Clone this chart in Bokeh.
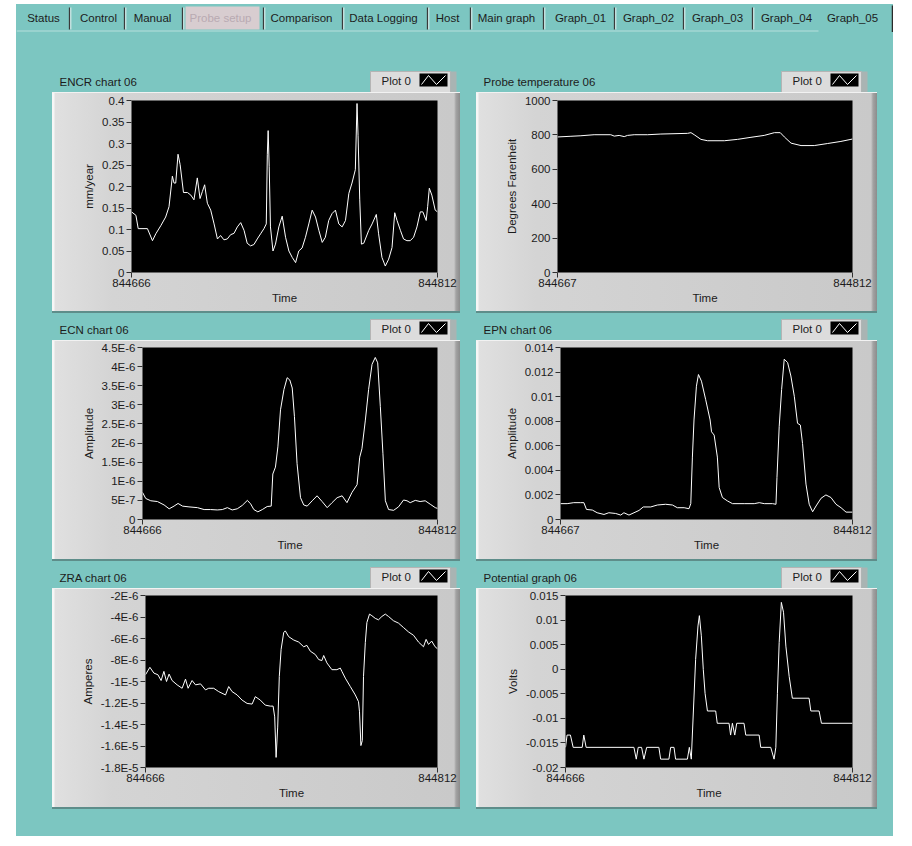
from bokeh.plotting import figure
from bokeh.layouts import column, row
from bokeh.models import Range1d, FixedTicker, CustomJSTickFormatter, NumeralTickFormatter
from bokeh.core.properties import value
from bokeh.embed import file_html
from bokeh.resources import INLINE

FONT = "Liberation Sans"
TEAL = "#7cc6c1"
PANEL = "#cdcdcd"
TXT = "#1c1c1c"
PANEL_BG = ("linear-gradient(90deg, #f6f6f6 0px, #f6f6f6 2px, #e0e0e0 3px, #d4d4d4 60px, "
            "#cccccc 75%, #c9c9c9 calc(100% - 6px), #a3a3a3 calc(100% - 4px), #8c8c8c 100%)")

# ---------------- tabs ----------------
tab_labels = ["Status", "Control", "Manual", "Probe setup", "Comparison", "Data Logging",
              "Host", "Main graph", "Graph_01", "Graph_02", "Graph_03", "Graph_04", "Graph_05"]

# ---------------- data ----------------
# ENCR chart 06 (mm/year), time offsets from 844666
encr_start, encr_end = 844666, 844812
encr_offset = [0, 2.1, 3.2, 7.6, 10, 11.6, 14, 16.3, 17.9, 19.5,
               20.3, 21.1, 22.2, 23.2, 24.8, 26.7, 28.3, 29.8, 31.4, 32.7,
               33.8, 34.9, 36.2, 37.8, 39.4, 41, 42.5, 44.1, 45.7, 47.3,
               48.9, 50.5, 52.1, 53.7, 55.2, 56.8, 58.4, 60, 61.6, 63.2,
               64.3, 64.8, 65.2, 65.7, 66.3, 67.5, 68.7, 70.3, 71.9, 73.5,
               75.1, 76.7, 78.3, 79.8, 81.4, 83, 84.6, 86.2, 87.8, 89.4,
               91, 92.5, 94.1, 95.7, 97.3, 98.9, 100.5, 102.1, 103.7, 105.2,
               106.8, 107.6, 108.1, 108.9, 109.7, 110.8, 113.2, 114.8, 116.8, 117.9,
               119.5, 121.1, 122.7, 124.3, 125.6, 126.7, 128.3, 129.8, 131.4, 133,
               134.6, 136.2, 137.8, 139, 140.6, 141.3, 142.1, 143.3, 144.9, 146]
encr_value = [0.141, 0.133, 0.102, 0.102, 0.074, 0.090, 0.109, 0.129, 0.153, 0.224,
              0.208, 0.208, 0.275, 0.251, 0.186, 0.186, 0.180, 0.169, 0.220, 0.172,
              0.188, 0.204, 0.161, 0.145, 0.113, 0.078, 0.086, 0.076, 0.078, 0.088,
              0.091, 0.106, 0.116, 0.098, 0.068, 0.062, 0.065, 0.078, 0.090, 0.102,
              0.113, 0.275, 0.330, 0.247, 0.106, 0.050, 0.066, 0.106, 0.131, 0.082,
              0.050, 0.035, 0.023, 0.050, 0.057, 0.082, 0.113, 0.145, 0.129, 0.098,
              0.070, 0.082, 0.121, 0.137, 0.145, 0.113, 0.106, 0.121, 0.184, 0.208,
              0.239, 0.393, 0.318, 0.169, 0.066, 0.068, 0.098, 0.113, 0.135, 0.090,
              0.035, 0.015, 0.031, 0.058, 0.139, 0.121, 0.098, 0.078, 0.074, 0.074,
              0.082, 0.106, 0.141, 0.141, 0.121, 0.153, 0.196, 0.180, 0.145, 0.141]
encr_ticks = [0, 0.05, 0.1, 0.15, 0.2, 0.25, 0.3, 0.35, 0.4]
encr_labels = ["0", "0.05", "0.1", "0.15", "0.2", "0.25", "0.3", "0.35", "0.4"]

# Probe temperature 06 (degrees F), offsets from 844667
probe_start, probe_end = 844667, 844812
probe_offset = [0, 6.6, 11.5, 18, 26.2, 27.9, 30.3, 32.8, 34.4, 37.7,
                44.3, 50.8, 63.9, 65.6, 67.2, 70.5, 73.8, 82, 88.5, 95.1,
                101.6, 106.6, 109.5, 111.5, 114.8, 119.7, 126.2, 132.8, 139.3, 145]
probe_value = [788, 792, 795, 801, 801, 793, 797, 790, 797, 801,
               801, 805, 809, 813, 801, 774, 766, 766, 774, 786,
               797, 813, 813, 788, 752, 738, 738, 750, 762, 776]
probe_ticks = [0, 200, 400, 600, 800, 1000]
probe_labels = ["0", "200", "400", "600", "800", "1000"]

# ECN chart 06 (amplitude), offsets from 844666
ecn_start, ecn_end = 844666, 844812
ecn_offset = [0, 1.6, 4.1, 7.4, 10.7, 13.2, 15.6, 17.6, 19.8, 23,
              27.2, 30.5, 33.7, 37, 39.5, 42, 44.4, 46.9, 49.4, 51.9,
              53.5, 55.1, 57.1, 59.3, 61.7, 63.7, 64.5, 65.8, 67, 68.3,
              70, 71.6, 72.9, 74.1, 75.2, 76.5, 78.2, 79.8, 81.5, 84,
              86.4, 88.9, 91.4, 93.8, 96.3, 98.8, 101.2, 103.7, 106.2, 107.5,
              108.6, 110.3, 111.9, 113.6, 115.2, 116.4, 117.7, 119, 120.2, 121.8,
              124.3, 126.7, 129.2, 130.9, 132.5, 135, 137.4, 139.9, 142.4, 144.9, 146]
ecn_value = [7.1e-7, 5.5e-7, 4.9e-7, 4.7e-7, 3.8e-7, 2.8e-7, 3.5e-7, 4.2e-7, 3.5e-7, 3.3e-7,
             3.1e-7, 2.6e-7, 2.6e-7, 2.5e-7, 2.6e-7, 3.1e-7, 2.5e-7, 2.8e-7, 3.7e-7, 5.0e-7,
             4.1e-7, 2.6e-7, 2.0e-7, 2.6e-7, 3.4e-7, 3.5e-7, 11.9e-7, 13.7e-7, 19.0e-7, 28.7e-7,
             34.0e-7, 37.1e-7, 36.5e-7, 34.4e-7, 26.9e-7, 14.6e-7, 5.7e-7, 3.8e-7, 3.5e-7, 4.9e-7,
             6.2e-7, 4.7e-7, 3.1e-7, 4.4e-7, 5.7e-7, 6.2e-7, 4.4e-7, 7.1e-7, 9.1e-7, 16.3e-7,
             18.5e-7, 26.0e-7, 34.0e-7, 40.6e-7, 42.4e-7, 41.0e-7, 29.6e-7, 17.2e-7, 4.9e-7, 2.6e-7,
             2.4e-7, 3.3e-7, 5.1e-7, 4.9e-7, 4.4e-7, 5.0e-7, 4.7e-7, 4.9e-7, 4.0e-7, 3.1e-7, 2.9e-7]
ecn_ticks = [0, 5e-7, 1e-6, 1.5e-6, 2e-6, 2.5e-6, 3e-6, 3.5e-6, 4e-6, 4.5e-6]
ecn_labels = ["0", "5E-7", "1E-6", "1.5E-6", "2E-6", "2.5E-6", "3E-6", "3.5E-6", "4E-6", "4.5E-6"]

# EPN chart 06 (amplitude), offsets from 844667
epn_start, epn_end = 844667, 844812
epn_offset = [0, 3.3, 6.6, 10, 11.6, 12.9, 15.8, 18.2, 21.6, 24,
              27.4, 29.9, 31.5, 34, 36.5, 39, 41.1, 44.8, 48.1, 52.2,
              55.6, 58, 61.4, 63.8, 64.7, 65.5, 66.3, 67.5, 68.5, 70,
              72.1, 74.3, 75, 76.3, 77.9, 78.8, 80.4, 82.9, 85.4, 91.2,
              96.2, 98.7, 101.2, 105.3, 107, 107.5, 108.6, 109.8, 111.1, 112.8,
              114.4, 116.1, 117.7, 119.1, 120.2, 121.9, 123.5, 125.2, 126.9, 129.4,
              131.8, 134.3, 136.8, 139.3, 141.8, 145]
epn_value = [0.00129, 0.00129, 0.00137, 0.00137, 0.00137, 0.00082, 0.00077, 0.00055, 0.00041, 0.00055,
             0.00049, 0.00036, 0.00055, 0.00036, 0.00055, 0.00074, 0.00102, 0.00102, 0.00118, 0.00124,
             0.00118, 0.00096, 0.00096, 0.00088, 0.00129, 0.00508, 0.0081, 0.01085, 0.0118, 0.01126,
             0.00975, 0.0081, 0.00714, 0.00687, 0.00508, 0.0026, 0.00179, 0.00151, 0.00129, 0.00129,
             0.00129, 0.00137, 0.00129, 0.00129, 0.00124, 0.00343, 0.00755, 0.01058, 0.01305, 0.01277,
             0.01168, 0.01003, 0.00783, 0.00769, 0.00618, 0.00288, 0.00124, 0.00063, 0.0011, 0.00173,
             0.002, 0.00179, 0.00124, 0.00096, 0.0006, 0.0006]
epn_ticks = [0, 0.002, 0.004, 0.006, 0.008, 0.01, 0.012, 0.014]
epn_labels = ["0", "0.002", "0.004", "0.006", "0.008", "0.01", "0.012", "0.014"]

# ZRA chart 06 (amperes), offsets from 844666
zra_start, zra_end = 844666, 844812
zra_offset = [0, 2.2, 4.2, 6.2, 7.8, 9.2, 10.5, 11.8, 13.3, 15.8,
              18.3, 20, 21.3, 23.3, 25, 27.5, 30, 31.6, 34.1, 36.6,
              40, 41.6, 43.3, 45.8, 48.3, 50.8, 53.3, 54.9, 57.4, 59.9,
              62.4, 63.8, 64.6, 65.3, 66.1, 66.9, 67.8, 69.1, 69.9, 71.6,
              74.1, 76.6, 79.1, 80.7, 82.4, 84.9, 86.6, 88.2, 89.1, 90.7,
              93.2, 95.7, 97.4, 98.2, 99.9, 102.4, 104.9, 106.5, 107, 107.7,
              108.4, 109, 109.9, 110.7, 112, 113.2, 114.9, 116.5, 118.2, 119.9,
              121.5, 124, 126.5, 129, 131.5, 134, 136.5, 139, 140.3, 141.5,
              143.1, 144.8, 146]
zra_value = [-9.37e-6, -8.68e-6, -9.22e-6, -9.37e-6, -9.91e-6, -9.06e-6, -10.0e-6, -9.31e-6, -9.91e-6, -10.31e-6,
             -10.63e-6, -9.78e-6, -10.63e-6, -9.91e-6, -10.31e-6, -10.22e-6, -10.78e-6, -10.63e-6, -10.63e-6, -10.94e-6,
             -11.25e-6, -10.47e-6, -10.94e-6, -11.25e-6, -11.73e-6, -12.04e-6, -12.1e-6, -11.41e-6, -11.73e-6, -12.2e-6,
             -12.29e-6, -12.29e-6, -13.29e-6, -17.06e-6, -14.24e-6, -9.53e-6, -7.02e-6, -5.45e-6, -5.29e-6, -5.83e-6,
             -6.14e-6, -6.33e-6, -6.77e-6, -6.64e-6, -7.18e-6, -7.49e-6, -7.96e-6, -8.05e-6, -7.58e-6, -8.27e-6,
             -8.9e-6, -8.9e-6, -8.75e-6, -9.06e-6, -9.69e-6, -10.47e-6, -11.25e-6, -11.88e-6, -12.82e-6, -15.96e-6,
             -15.49e-6, -9.53e-6, -6.39e-6, -4.51e-6, -3.73e-6, -3.88e-6, -4.13e-6, -4.26e-6, -3.95e-6, -3.73e-6,
             -3.95e-6, -4.35e-6, -4.57e-6, -4.98e-6, -5.39e-6, -5.70e-6, -6.33e-6, -6.77e-6, -6.08e-6, -6.55e-6,
             -6.24e-6, -6.77e-6, -6.96e-6]
zra_ticks = [-1.8e-5, -1.6e-5, -1.4e-5, -1.2e-5, -1e-5, -8e-6, -6e-6, -4e-6, -2e-6]
zra_labels = ["-1.8E-5", "-1.6E-5", "-1.4E-5", "-1.2E-5", "-1E-5", "-8E-6", "-6E-6", "-4E-6", "-2E-6"]

# Potential graph 06 (volts), offsets from 844666
pot_start, pot_end = 844666, 844812
pot_offset = [0, 0.8, 2.5, 3.9, 8.5, 9.3, 10.5, 34.8, 36, 37,
              38.7, 39.9, 41.3, 47.5, 48.4, 52.6, 53.5, 55.2, 56, 62,
              63, 64, 66.2, 67.4, 68.1, 69.1, 70.1, 71, 72.2, 76.4,
              77.2, 83.2, 84, 84.9, 86.1, 87.1, 90.8, 91.7, 98.5, 99.3,
              104.4, 106.1, 107, 107.8, 108.7, 109.8, 110.9, 112.1, 113.8, 115.4,
              123.9, 124.8, 129, 130.2, 146]
pot_value = [-0.0159, -0.0134, -0.0134, -0.0159, -0.0159, -0.0134, -0.0159, -0.0159, -0.0183, -0.0159,
             -0.0159, -0.0183, -0.0159, -0.0159, -0.0183, -0.0183, -0.0159, -0.0159, -0.0183, -0.0183,
             -0.0159, -0.0183, 0.0020, 0.0088, 0.0109, 0.0068, -0.0001, -0.0049, -0.0085, -0.0085,
             -0.0110, -0.0110, -0.0134, -0.0110, -0.0134, -0.0110, -0.0110, -0.0134, -0.0134, -0.0159,
             -0.0159, -0.0183, -0.0159, -0.0049, 0.0054, 0.0136, 0.0116, 0.0047, -0.0015, -0.0059,
             -0.0059, -0.0085, -0.0085, -0.0110, -0.0110]
pot_ticks = [-0.02, -0.015, -0.01, -0.005, 0, 0.005, 0.01, 0.015]
pot_labels = ["-0.02", "-0.015", "-0.01", "-0.005", "0", "0.005", "0.01", "0.015"]

# ---------------- layout constants ----------------
PANEL_H = 219
HEADER_H = 27
LEFT_W, RIGHT_W = 408, 401

LABEL_JS = """
let best = 0;
for (let i = 1; i < tick_values.length; i++) {
  if (Math.abs(tick_values[i] - tick) < Math.abs(tick_values[best] - tick)) { best = i; }
}
return tick_texts[best];
"""


def hide_grid(f):
    for g in f.xgrid + f.ygrid:
        g.visible = False


def make_tabs():
    t = figure(width=877, height=28, x_range=Range1d(16, 893), y_range=Range1d(32, 4),
               x_axis_location=None, y_axis_location=None, output_backend="svg",
               toolbar_location=None, min_border=0, outline_line_color=None,
               background_fill_color=TEAL, border_fill_color=TEAL)
    hide_grid(t)
    centers = [43, 98, 152, 220, 301, 383, 447, 506, 580, 648, 717, 786, 852]
    seps = [69, 124, 182, 263, 342, 427, 470, 543, 614, 683, 752]
    t.quad(left=[185], right=[259], top=[6], bottom=[29], fill_color="#d8cdd0", line_color=None)
    t.segment(x0=[16], x1=[818], y0=[30.5], y1=[30.5], line_color="#b6dfdc", line_width=1)
    t.segment(x0=seps, x1=seps, y0=[7] * len(seps), y1=[29] * len(seps), line_color="#3a3a3a", line_width=1.3)
    t.segment(x0=[s + 1.3 for s in seps], x1=[s + 1.3 for s in seps], y0=[7] * len(seps),
              y1=[29] * len(seps), line_color="#e6f3f2", line_width=1)
    t.segment(x0=[892], x1=[892], y0=[5], y1=[32], line_color="#2a2a2a", line_width=1.5)
    colors = [TXT] * len(tab_labels)
    colors[3] = "#b9aab2"
    t.text(x=centers, y=[17.5] * len(centers), text=tab_labels, text_color=colors,
           text_font=value(FONT), text_font_size="11.5px", text_align="center", text_baseline="middle")
    return t


def make_header(title, width, legend_left):
    h = figure(width=width, height=HEADER_H, x_range=Range1d(0, width), y_range=Range1d(HEADER_H, 0),
               x_axis_location=None, y_axis_location=None, output_backend="svg",
               toolbar_location=None, min_border=0, outline_line_color=None,
               background_fill_color=TEAL, border_fill_color=TEAL)
    hide_grid(h)
    h.text(x=[7], y=[16], text=[title], text_font=value(FONT), text_font_size="11.5px",
           text_baseline="middle", text_color=TXT)
    L = legend_left
    h.quad(left=[L], right=[L + 80], top=[6], bottom=[27], fill_color="#dcdcdc", line_color="#b4b4b4")
    h.quad(left=[L + 80], right=[L + 86], top=[6], bottom=[27], fill_color="#a9b4b3", line_color=None)
    h.text(x=[L + 11], y=[15], text=["Plot 0"], text_font=value(FONT), text_font_size="11.5px",
           text_baseline="middle", text_color=TXT)
    h.quad(left=[L + 49], right=[L + 77], top=[8], bottom=[21], fill_color="black", line_color=None)
    h.line(x=[L + 51, L + 58, L + 66, L + 75], y=[19, 10, 19, 10], line_color="white", line_width=1)
    return h


def make_chart(offsets, values, x0, x1, y0, y1, yticks, ylabels, ylabel, width, bl, fw, bt, fh):
    p = figure(frame_width=fw, frame_height=fh, x_range=Range1d(x0, x1), y_range=Range1d(y0, y1),
               min_border_left=bl, min_border_right=width - bl - fw, min_border_top=bt,
               min_border_bottom=PANEL_H - bt - fh, output_backend="svg", toolbar_location=None,
               background_fill_color="black", border_fill_color=None, outline_line_color=None,
               x_axis_label="Time", y_axis_label=ylabel)
    times = [x0 + o for o in offsets]
    p.line(times, values, line_color="white", line_width=1)
    hide_grid(p)
    p.xaxis.ticker = FixedTicker(ticks=[x0, x1])
    p.xaxis.formatter = NumeralTickFormatter(format="0")
    p.yaxis.ticker = FixedTicker(ticks=yticks)
    p.yaxis.formatter = CustomJSTickFormatter(args=dict(tick_values=yticks, tick_texts=ylabels), code=LABEL_JS)
    for ax in (p.xaxis[0], p.yaxis[0]):
        ax.axis_line_color = None
        ax.major_tick_line_color = "#303030"
        ax.major_tick_in = 0
        ax.major_tick_out = 5
        ax.minor_tick_line_color = None
        ax.major_label_text_font = FONT
        ax.major_label_text_font_size = "11.5px"
        ax.major_label_text_color = TXT
        ax.axis_label_text_font = FONT
        ax.axis_label_text_font_size = "11.5px"
        ax.axis_label_text_font_style = "normal"
        ax.axis_label_text_color = TXT
    p.xaxis.major_label_standoff = 1
    p.xaxis.axis_label_standoff = 2
    p.yaxis.major_label_standoff = 2
    p.yaxis.axis_label_standoff = 4
    return p


def block(fig, top, panel=False):
    # wrap each figure on its own so the layout does not line up their frames
    styles = {}
    if panel:
        styles = {"background": PANEL_BG,
                  "box-shadow": "0 2px 0 rgba(70, 95, 93, 0.55), inset 0 1px 0 #f2f2f2"}
    return row(fig, margin=(top, 0, 0, 0), styles=styles)


h1 = make_header("ENCR chart 06", LEFT_W, 318)
c1 = make_chart(encr_offset, encr_value, encr_start, encr_end, 0, 0.4, encr_ticks, encr_labels,
                "mm/year", LEFT_W, 79, 306, 8, 172)
h2 = make_header("ECN chart 06", LEFT_W, 318)
c2 = make_chart(ecn_offset, ecn_value, ecn_start, ecn_end, 0, 4.5e-6, ecn_ticks, ecn_labels,
                "Amplitude", LEFT_W, 90, 295, 7, 172)
h3 = make_header("ZRA chart 06", LEFT_W, 318)
c3 = make_chart(zra_offset, zra_value, zra_start, zra_end, -1.8e-5, -2e-6, zra_ticks, zra_labels,
                "Amperes", LEFT_W, 93, 292, 7, 172)

h4 = make_header("Probe temperature 06", RIGHT_W, 305)
c4 = make_chart(probe_offset, probe_value, probe_start, probe_end, 0, 1000, probe_ticks, probe_labels,
                "Degrees Farenheit", RIGHT_W, 81, 295, 8, 172)
h5 = make_header("EPN chart 06", RIGHT_W, 305)
c5 = make_chart(epn_offset, epn_value, epn_start, epn_end, 0, 0.014, epn_ticks, epn_labels,
                "Amplitude", RIGHT_W, 84, 292, 7, 172)
h6 = make_header("Potential graph 06", RIGHT_W, 305)
c6 = make_chart(pot_offset, pot_value, pot_start, pot_end, -0.02, 0.015, pot_ticks, pot_labels,
                "Volts", RIGHT_W, 89, 287, 7, 172)

left_col = column(block(h1, 0), block(c1, 0, True), block(h2, 2), block(c2, 0, True),
                  block(h3, 2), block(c3, 0, True), spacing=0, margin=(33, 0, 0, 36))
right_col = column(block(h4, 0), block(c4, 0, True), block(h5, 2), block(c5, 0, True),
                   block(h6, 2), block(c6, 0, True), spacing=0, margin=(33, 0, 0, 16))
body = row(left_col, right_col, spacing=0)

root = column(make_tabs(), body, spacing=0, width=877, height=832, margin=(4, 19, 10, 16),
              styles={"background-color": TEAL})

open("out.html", "w").write(file_html(root, INLINE, "Graph_05"))
